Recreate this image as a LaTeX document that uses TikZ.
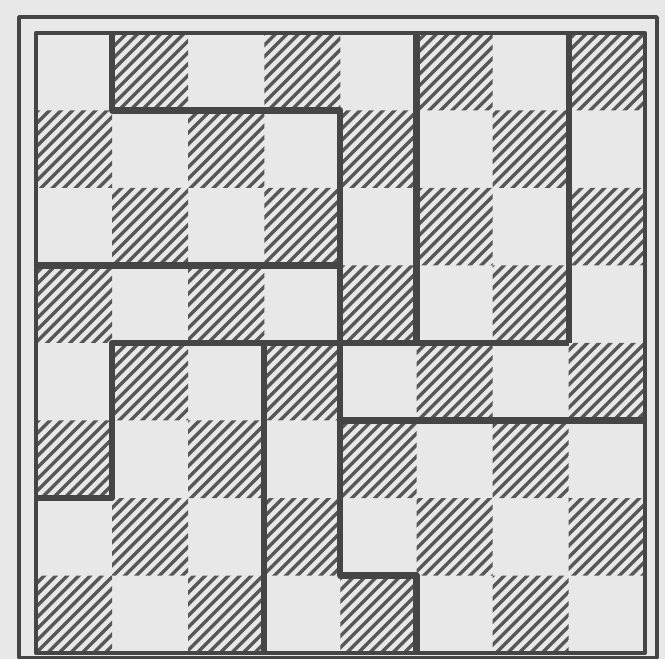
\documentclass[tikz,border=0pt]{standalone}
\definecolor{fond}{gray}{0.91}
\definecolor{encre}{gray}{0.27}
\begin{document}
\begin{tikzpicture}[x=1.9025cm, y=1.9375cm, line join=round,
    hachure/.style={line width=2.4pt, draw=encre!90!white},
    coupe/.style={line width=4.4pt, draw=encre},
    cadre/.style={line width=2.6pt, draw=encre}]
  % Fond et cadre de l'image
  \useasboundingbox (-0.9cm,-0.15cm) rectangle (15.725cm,16.325cm);
  \fill[fond] (-0.9cm,-0.15cm) rectangle (15.725cm,16.325cm);

  % Cases hachurées (une case sur deux)
  \begin{scope}
    \clip \foreach \j in {0,...,7} {
      \foreach \k in {0,2,4,6} { ({\k+mod(\j,2)},\j) rectangle ++(1,1) }
    };
    \foreach \n in {-55,...,55}
      \draw[hachure] (\n*0.2875cm,0cm) -- ++(16cm,16cm);
  \end{scope}

  % Double bordure de l'échiquier
  \draw[cadre] (-0.425cm,-0.11cm) rectangle (15.525cm,15.9cm);
  \draw[line width=3.2pt, draw=encre] (0,0) rectangle (8,8);

  % Lignes de coupe des huit morceaux
  \draw[coupe] (1,8) -- (1,7) -- (4,7) -- (4,1) -- (5,1) -- (5,0);
  \draw[coupe] (0,5) -- (4,5);
  \draw[coupe] (0,2) -- (1,2) -- (1,4) -- (7,4);
  \draw[coupe] (3,4) -- (3,0);
  \draw[coupe] (5,8) -- (5,4);
  \draw[coupe] (7,8) -- (7,4);
  \draw[coupe] (4,3) -- (8,3);
\end{tikzpicture}
\end{document}
